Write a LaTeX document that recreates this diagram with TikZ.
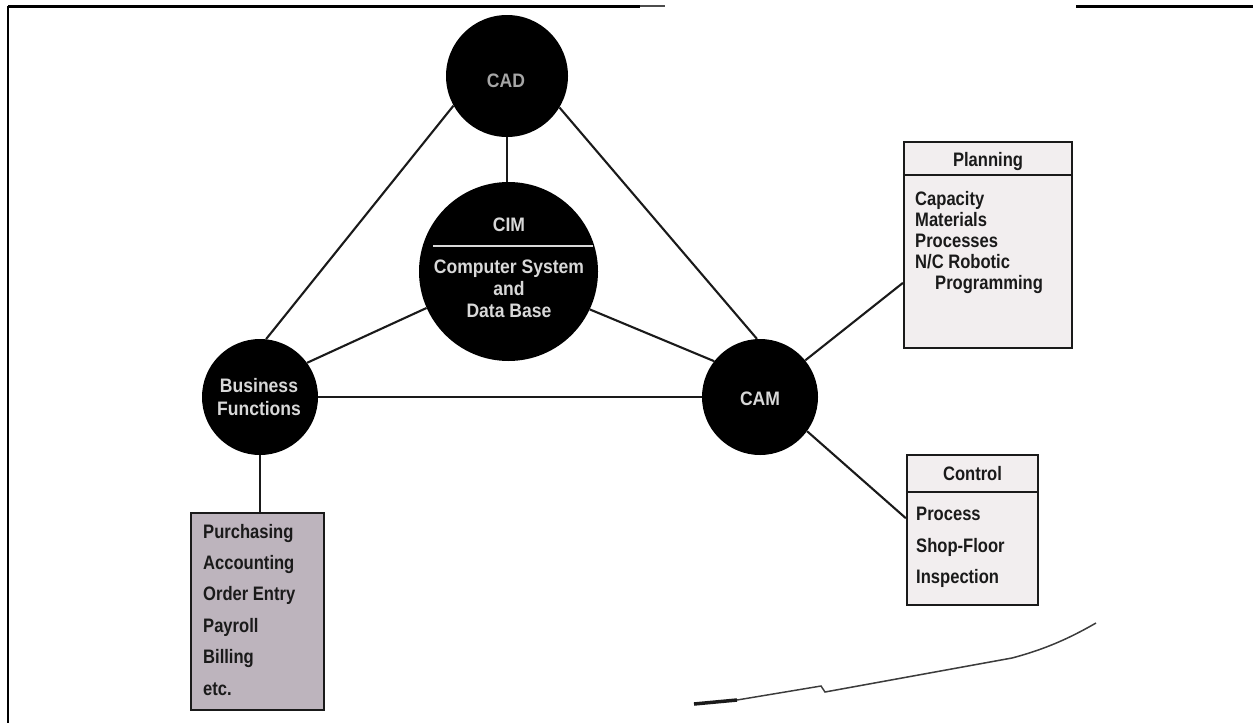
\documentclass[tikz,border=0pt]{standalone}
\usepackage{fontspec}
\setmainfont{Liberation Sans}
\newfontfamily\circfont[FakeStretch=0.9]{Liberation Sans}
\newfontfamily\boxfont[FakeStretch=0.85]{Liberation Sans}
\definecolor{ink}{HTML}{1A1A1A}
\definecolor{circtext}{HTML}{D8D8D8}
\definecolor{lightbox}{HTML}{F2EEEF}
\definecolor{darkbox}{HTML}{BDB4BD}
\begin{document}
\begin{tikzpicture}[x=1pt,y=-1pt,
  hub/.style={circle, fill=black, draw=none, minimum size=#1, inner sep=0pt},
  ctext/.style={anchor=base, text=circtext, font=\circfont\bfseries\fontsize{19.5}{22}\selectfont, inner sep=0pt},
  btext/.style={anchor=base west, text=ink, font=\boxfont\bfseries\fontsize{19.5}{22}\selectfont, inner sep=0pt},
  bhead/.style={anchor=base, text=ink, font=\boxfont\bfseries\fontsize{19.5}{22}\selectfont, inner sep=0pt},
  link/.style={draw=ink, line width=2.1pt},
  listbox/.style={draw=ink, line width=2.2pt, inner sep=0pt, fill=#1},
  frameline/.style={draw=black, line width=3pt},
]
\useasboundingbox (0,0) rectangle (1253,723);

% frame and paper edge
\draw[frameline] (8,6) -- (640,6);
\draw[draw=black!70, line width=2pt] (640,6) -- (665,6);
\draw[frameline] (1076,6) -- (1253,6);
\draw[draw=black, line width=2pt] (8,6) -- (8,723);
\draw[draw=ink, line width=3.5pt] (694,704) -- (737,700);
\draw[draw=ink!85, line width=1.5pt] (737,700) -- (821,686) -- (825,692) -- (1012,658) .. controls (1050,648) and (1075,635) .. (1096,623);

% hubs
\node[hub=122pt] (cad) at (507,76) {};
\node[hub=179pt] (cim) at (508.5,271.5) {};
\node[hub=116pt] (bus) at (260,397) {};
\node[hub=116pt] (cam) at (760,397) {};

% boxes
\node[listbox=lightbox, minimum width=168pt, minimum height=206pt] (plan) at (988,245) {};
\node[listbox=lightbox, minimum width=131pt, minimum height=150pt] (ctrl) at (972.5,530) {};
\node[listbox=darkbox, minimum width=133pt, minimum height=197pt] (pur) at (257.5,611.5) {};
\draw[draw=ink, line width=2.2pt] (plan.west |- 0,175) -- (plan.east |- 0,175);
\draw[draw=ink, line width=2.2pt] (ctrl.west |- 0,492) -- (ctrl.east |- 0,492);

% connectors
\draw[link] (cad.south) -- (cad.south |- cim.north);
\draw[link] (cad.209) -- (bus.84);
\draw[link] (cad.329) -- (cam.93);
\draw[link] (cim.204) -- (bus.36);
\draw[link] (cim.335) -- (cam.142);
\draw[link] (bus) -- (cam);
\draw[link] (bus.south) -- (bus.south |- pur.north);
\draw[link] (cam.39) -- (plan.204);
\draw[link] (cam.324) -- (ctrl.170);

% hub texts
\node[ctext, text=black!35] (tcad) at (506,87) {CAD};
\node[ctext] (tcim) at (509,231) {CIM};
\draw[draw=circtext, line width=1.5pt] (433,246) -- (593,246);
\node[ctext] (tcs) at (509,273) {Computer System};
\node[ctext] (tand) at (509,295) {and};
\node[ctext] (tdb) at (509,317) {Data Base};
\node[ctext] (tbus) at (259,392) {Business};
\node[ctext] (tfun) at (259,415) {Functions};
\node[ctext] (tcam) at (760,405) {CAM};

% planning box texts
\node[bhead] (hplan) at (988,166) {Planning};
\node[btext] (p1) at (915,205) {Capacity};
\node[btext] (p2) at (915,226) {Materials};
\node[btext] (p3) at (915,247) {Processes};
\node[btext] (p4) at (915,268) {N/C Robotic};
\node[btext] (p5) at (935,289) {Programming};

% control box texts
\node[bhead] (hctrl) at (972.5,480) {Control};
\node[btext] (c1) at (916,520) {Process};
\node[btext] (c2) at (916,552) {Shop-Floor};
\node[btext] (c3) at (916,583) {Inspection};

% business list texts
\node[btext] (b1) at (203,538) {Purchasing};
\node[btext] (b2) at (203,569) {Accounting};
\node[btext] (b3) at (203,600) {Order Entry};
\node[btext] (b4) at (203,632) {Payroll};
\node[btext] (b5) at (203,663) {Billing};
\node[btext] (b6) at (203,695) {etc.};
\end{tikzpicture}
\end{document}
